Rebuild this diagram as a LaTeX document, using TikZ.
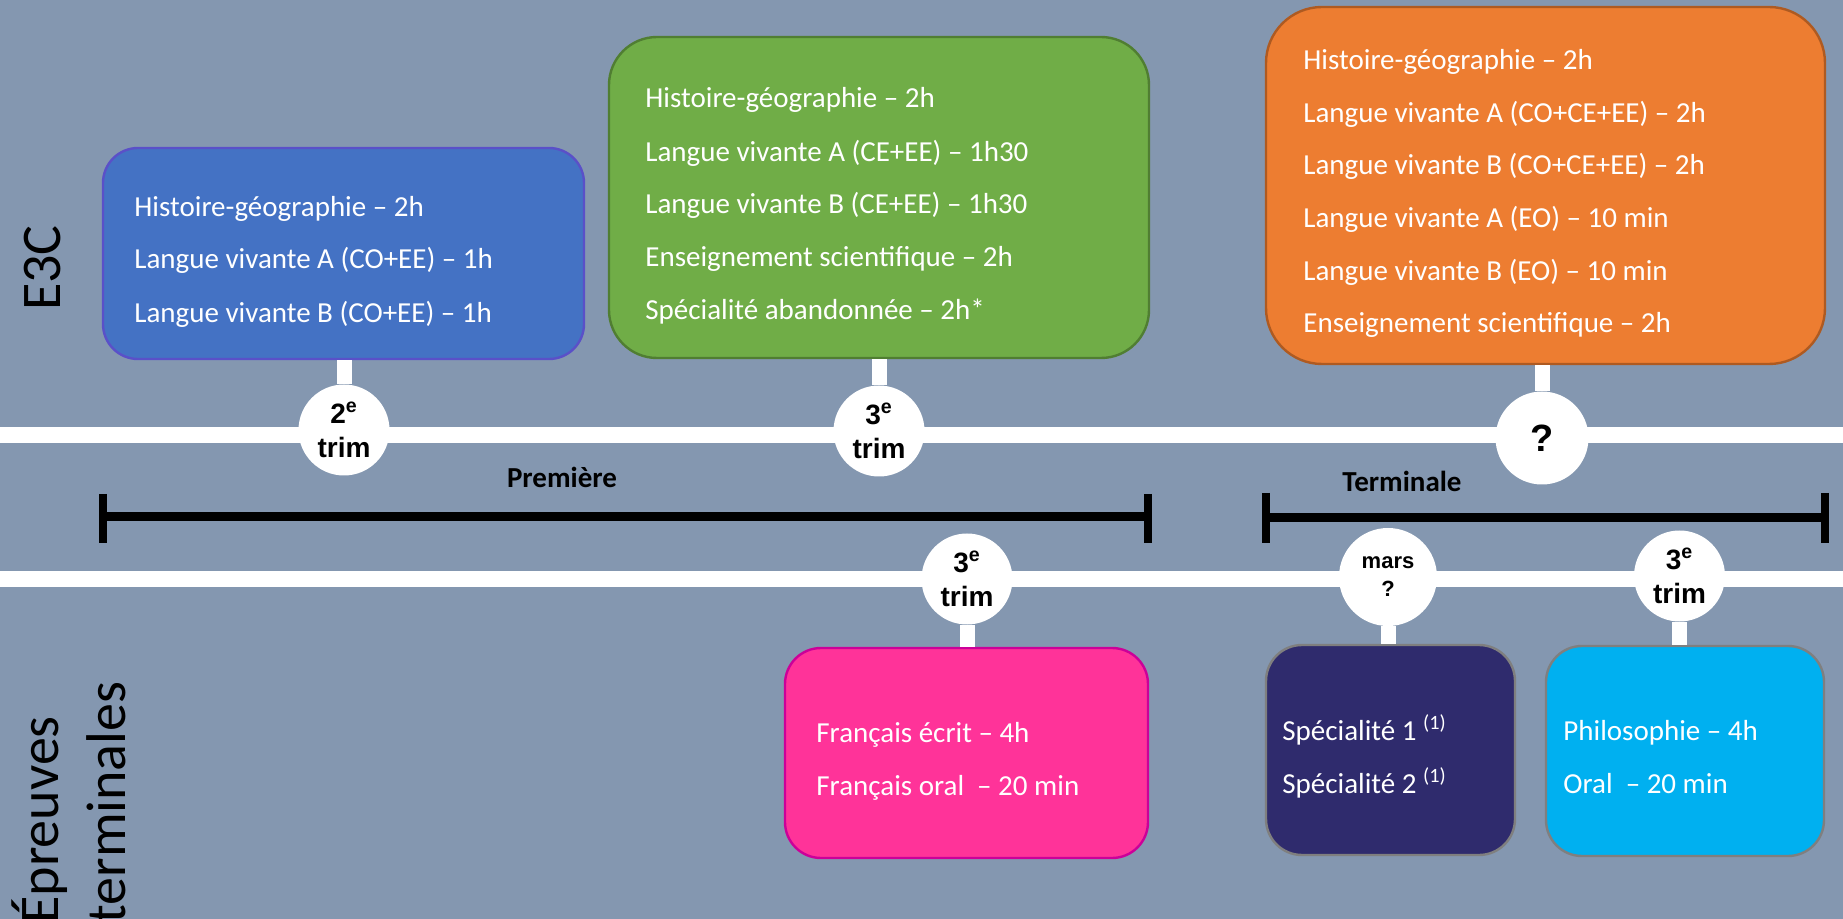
\documentclass[tikz,border=0pt]{standalone}
\usepackage{fontspec}
\setmainfont{Carlito}
\newfontfamily\arialfont{Liberation Sans}
\definecolor{bg}{HTML}{8497B0}
\definecolor{bluefill}{HTML}{4472C4}
\definecolor{blueline}{HTML}{5A50C8}
\definecolor{greenfill}{HTML}{70AD47}
\definecolor{greenline}{HTML}{507E32}
\definecolor{orangefill}{HTML}{ED7D31}
\definecolor{orangeline}{HTML}{AE5A21}
\definecolor{pinkfill}{HTML}{FF3399}
\definecolor{pinkline}{HTML}{CC0099}
\definecolor{navyfill}{HTML}{2F2B6D}
\definecolor{cyanfill}{HTML}{00B0F0}
\definecolor{greyline}{HTML}{7F7F7F}
\begin{document}
\begin{tikzpicture}[x=0.5pt,y=-0.5pt,
  exam/.style={draw, line width=1.2pt, inner sep=0pt},
  item/.style={anchor=base west, inner sep=0pt, text=white, font=\fontsize{14.5}{17}\selectfont},
  dot/.style={circle, fill=white, inner sep=0pt, minimum size=45.5pt, align=center, font=\arialfont\bfseries\fontsize{14}{17}\selectfont},
  stem/.style={white, line width=7.5pt},
  track/.style={white, line width=8pt},
  bar/.style={black, line width=4.5pt},
  tick/.style={black, line width=4pt},
  side/.style={rotate=90, inner sep=0pt, text=black, font=\fontsize{28}{33}\selectfont},
  period/.style={anchor=base, inner sep=0pt, font=\bfseries\fontsize{14.5}{17}\selectfont}
]
\fill[bg] (0,0) rectangle (1843,919);
\useasboundingbox (0,0) rectangle (1843,919);

% tracks
\coordinate (t1w) at (0,435);
\coordinate (t1e) at (1843,435);
\coordinate (t2w) at (0,579);
\coordinate (t2e) at (1843,579);
\draw[track] (t1w) -- (t1e);
\draw[track] (t2w) -- (t2e);

% period brackets
\coordinate (p1) at (103,516.5);
\coordinate (p2) at (1148,516.5);
\coordinate (q1) at (1266,518);
\coordinate (q2) at (1825,518);
\draw[bar] (p1) -- (p2);
\draw[tick] (p1) ++(0,-22.5) -- ++(0,49);
\draw[tick] (p2) ++(0,-22.5) -- ++(0,49);
\draw[bar] (q1) -- (q2);
\draw[tick] (q1) ++(0,-25) -- ++(0,50);
\draw[tick] (q2) ++(0,-25) -- ++(0,50);
\node[period] (prem) at (562,488) {Première};
\node[period] (term) at (1402,492) {Terminale};

% side labels
\node[side, anchor=base] (e3c) at (61,268) {E3C};
\node[side, anchor=base west] (ep1) at (58,924) {Épreuves};
\node[side, anchor=base west] (ep2) at (125,924) {terminales};

% boxes
\node[exam, fill=bluefill, draw=blueline, rounded corners=17.5pt, minimum width=240.5pt, minimum height=105.5pt] (blue) at (343.5,253.5) {};
\node[exam, fill=greenfill, draw=greenline, rounded corners=24pt, minimum width=270pt, minimum height=160.5pt] (green) at (879,197.5) {};
\node[exam, fill=orangefill, draw=orangeline, rounded corners=28pt, minimum width=279.5pt, minimum height=178.5pt] (orange) at (1545.5,185.5) {};
\node[exam, fill=pinkfill, draw=pinkline, rounded corners=18pt, minimum width=181.5pt, minimum height=105pt] (pink) at (966.5,753) {};
\node[exam, fill=navyfill, draw=greyline, rounded corners=18pt, minimum width=124.5pt, minimum height=105pt] (navy) at (1390.5,750) {};
\node[exam, fill=cyanfill, draw=greyline, rounded corners=18pt, minimum width=139pt, minimum height=105pt] (cyan) at (1685,751) {};

% box texts
\node[item] (b1) at (134,217) {Histoire-géographie – 2h};
\node[item] (b2) at (134,269) {Langue vivante A (CO+EE) – 1h};
\node[item] (b3) at (134,323) {Langue vivante B (CO+EE) – 1h};

\node[item] (g1) at (645,108) {Histoire-géographie – 2h};
\node[item] (g2) at (645,162) {Langue vivante A (CE+EE) – 1h30};
\node[item] (g3) at (645,214) {Langue vivante B (CE+EE) – 1h30};
\node[item] (g4) at (645,267) {Enseignement scientifique – 2h};
\node[item] (g5) at (645,320) {Spécialité abandonnée – 2h*};

\node[item] (o1) at (1303,70) {Histoire-géographie – 2h};
\node[item] (o2) at (1303,123) {Langue vivante A (CO+CE+EE) – 2h};
\node[item] (o3) at (1303,175) {Langue vivante B (CO+CE+EE) – 2h};
\node[item] (o4) at (1303,228) {Langue vivante A (EO) – 10 min};
\node[item] (o5) at (1303,281) {Langue vivante B (EO) – 10 min};
\node[item] (o6) at (1303,333) {Enseignement scientifique – 2h};

\node[item] (k1) at (816,742) {Français écrit – 4h};
\node[item] (k2) at (816,795) {Français oral~~– 20 min};

\node[item] (n1) at (1282,740) {Spécialité 1 \textsuperscript{(1)}};
\node[item] (n2) at (1282,793) {Spécialité 2 \textsuperscript{(1)}};

\node[item] (y1) at (1563,740) {Philosophie – 4h};
\node[item] (y2) at (1563,793) {Oral~~– 20 min};

% milestone circles
\node[dot] (c1) at (344,430) {2\textsuperscript{e}\\trim};
\node[dot] (c2) at (879,431) {3\textsuperscript{e}\\trim};
\node[dot, minimum size=46.5pt, font=\arialfont\bfseries\fontsize{19}{22}\selectfont] (c3) at (1542,438) {?};
\node[dot] (c4) at (967,579) {3\textsuperscript{e}\\trim};
\node[dot, minimum size=49pt, font=\arialfont\bfseries\fontsize{11}{14}\selectfont] (c5) at (1388,577) {mars\\?};
\node[dot] (c6) at (1679.5,576) {3\textsuperscript{e}\\trim};

% stems
\draw[stem] (c1.north) -- (c1.north |- blue.south);
\draw[stem] (c2.north) -- (c2.north |- green.south);
\draw[stem] (c3.north) -- (c3.north |- orange.south);
\draw[stem] (c4.south) -- (c4.south |- pink.north);
\draw[stem] (c5.south) -- (c5.south |- navy.north);
\draw[stem] (c6.south) -- (c6.south |- cyan.north);
\end{tikzpicture}
\end{document}
